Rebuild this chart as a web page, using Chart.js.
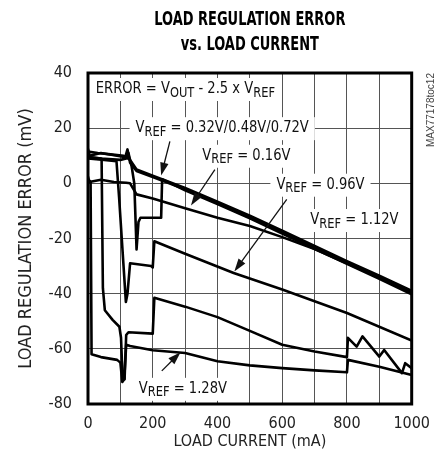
<!DOCTYPE html>
<html>
<head>
<meta charset="utf-8">
<script src="https://cdn.jsdelivr.net/npm/chart.js@4.4.0/dist/chart.umd.min.js"></script>
<style>
  html, body { margin: 0; padding: 0; background: #fff; }
</style>
</head>
<body>
<canvas id="chart-loadreg" width="440" height="463"></canvas>
<script>
// load current (mA) and error (mV)
const cur016 = [0, 4, 40, 80, 118, 130, 140, 150, 200, 300, 400, 500, 600, 700, 800, 900, 1000];
const err016 = [2.5, 0.5, 1.3, 0.5, 0.2, 0, -2, -4, -5.5, -9, -12.5, -15.5, -19.5, -23.8, -29, -34.2, -39.6];

const cur032 = [0, 30, 70, 110, 130, 150, 200, 300, 400, 500, 600, 700, 800, 900, 1000];
const err032 = [11.5, 11, 10.5, 10, 8.5, 5, 2.8, -1.7, -6.7, -11.7, -17.2, -22.7, -28.2, -33.5, -39];

const cur048 = [0, 5, 40, 90, 115, 122, 130, 150, 200, 300, 400, 500, 600, 700, 800, 900, 1000];
const err048 = [12.5, 10, 11, 10, 9.5, 12.3, 7.5, 4.5, 2.3, -2.2, -7.2, -12.4, -17.8, -23.3, -28.8, -34.2, -39.7];

const cur072 = [0, 40, 100, 118, 125, 135, 143, 150, 156, 162, 226, 229, 300, 400, 500, 600, 700, 800, 900, 1000];
const err072 = [9.5, 9, 8.5, 9, 11, 6, 0, -24, -14, -12.5, -12.5, 1.5, -2.5, -7.5, -12.7, -18.2, -23.7, -29.2, -34.6, -40.2];

const cur096 = [0, 50, 88, 96, 117, 122, 130, 195, 200, 205, 300, 450, 600, 800, 1000];
const err096 = [9, 8.5, 8, -5, -43, -40, -29, -30, -30.5, -21, -25.5, -32.5, -38.5, -47, -57];

const cur112 = [0, 42, 46, 52, 76, 97, 102, 107, 113, 118, 125, 200, 205, 300, 400, 500, 600, 700, 800, 803, 830, 848, 900, 915, 970, 980, 1000];
const err112 = [9.5, 9, -38, -46, -49.5, -52, -56, -71, -71, -55, -54, -54.5, -41.5, -44.7, -48.5, -53.5, -58.5, -61, -63, -56, -59.2, -55.5, -62.8, -60.4, -68.8, -65.2, -67];

const cur128 = [0, 8, 11, 40, 90, 100, 106, 112, 118, 130, 200, 300, 400, 500, 600, 700, 800, 803, 900, 1000];
const err128 = [1.5, 0.5, -62, -63, -64, -65, -72, -71, -58.5, -59, -60.5, -61.5, -64.5, -66, -67, -67.8, -68.5, -64, -66.5, -69.5];

const xTicks = [0, 200, 400, 600, 800, 1000];
const yTicks = [-80, -60, -40, -20, 0, 20, 40];

const FONT = '"Liberation Sans Narrow", "DejaVu Sans Condensed", "Arial Narrow", sans-serif';
const SQUEEZE = 0.91;   // callout text is narrower than the fallback font

const curves = [
    ['0.16V', cur016, err016],
    ['0.32V', cur032, err032],
    ['0.48V', cur048, err048],
    ['0.72V', cur072, err072],
    ['0.96V', cur096, err096],
    ['1.12V', cur112, err112],
    ['1.28V', cur128, err128]
];

// callouts: text parts ([text, isSubscript]), left edge / middle in data units, optional arrow tail->tip
const notes = [
    { parts: [['ERROR = V'], ['OUT', 1], [' - 2.5 x V'], ['REF', 1]], at: [24, 34.2] },
    { parts: [['V'], ['REF', 1], [' = 0.32V/0.48V/0.72V']], at: [147, 20], arrow: [[253, 15.2], [226, 2.8]] },
    { parts: [['V'], ['REF', 1], [' = 0.16V']], at: [353, 10], arrow: [[392, 5], [318, -8]] },
    { parts: [['V'], ['REF', 1], [' = 0.96V']], at: [582, -0.5], arrow: [[614, -5.8], [452, -32]] },
    { parts: [['V'], ['REF', 1], [' = 1.12V']], at: [687, -13.3] },
    { parts: [['V'], ['REF', 1], [' = 1.28V']], at: [157, -74.5], arrow: [[228, -68], [286, -61.2]] }
];

function setFont(ctx, sub) {
    ctx.font = (sub ? '14px ' : '16px ') + FONT;
}

function richWidth(ctx, parts) {
    let w = 0;
    parts.forEach(([t, sub]) => { setFont(ctx, sub); w += ctx.measureText(t).width; });
    return w * SQUEEZE;
}

function drawRich(ctx, parts, x, y) {
    ctx.save();
    ctx.translate(x, y);
    ctx.scale(SQUEEZE, 1);
    let px = 0;
    parts.forEach(([t, sub]) => {
        setFont(ctx, sub);
        ctx.fillText(t, px, sub ? 4 : 0);
        px += ctx.measureText(t).width;
    });
    ctx.restore();
}

function drawArrow(ctx, x0, y0, x1, y1) {
    const a = Math.atan2(y1 - y0, x1 - x0);
    const len = 13, half = 4.2;
    ctx.beginPath();
    ctx.moveTo(x0, y0);
    ctx.lineTo(x1 - Math.cos(a) * len * 0.8, y1 - Math.sin(a) * len * 0.8);
    ctx.lineWidth = 1.3;
    ctx.stroke();
    ctx.beginPath();
    ctx.moveTo(x1, y1);
    ctx.lineTo(x1 - Math.cos(a) * len - Math.sin(a) * half, y1 - Math.sin(a) * len + Math.cos(a) * half);
    ctx.lineTo(x1 - Math.cos(a) * len + Math.sin(a) * half, y1 - Math.sin(a) * len - Math.cos(a) * half);
    ctx.closePath();
    ctx.fill();
}

const decor = {
    id: 'decor',
    beforeDatasetsDraw(chart) {
        // white boxes under the callouts hide the grid, like the original
        const {ctx, scales: {x, y}} = chart;
        ctx.save();
        ctx.fillStyle = '#fff';
        notes.forEach(n => {
            const px = x.getPixelForValue(n.at[0]), py = y.getPixelForValue(n.at[1]);
            const w = richWidth(ctx, n.parts);
            ctx.fillRect(px - 6, py - 11, w + 12, 23);
        });
        ctx.restore();
    },
    afterDatasetsDraw(chart) {
        const {ctx, chartArea: a, scales: {x, y}} = chart;
        ctx.save();
        ctx.fillStyle = '#111';
        ctx.strokeStyle = '#111';
        ctx.textBaseline = 'middle';
        ctx.textAlign = 'left';
        notes.forEach(n => {
            drawRich(ctx, n.parts, x.getPixelForValue(n.at[0]), y.getPixelForValue(n.at[1]));
            if (n.arrow) {
                const [t, h] = n.arrow;
                drawArrow(ctx, x.getPixelForValue(t[0]), y.getPixelForValue(t[1]),
                    x.getPixelForValue(h[0]), y.getPixelForValue(h[1]));
            }
        });

        // plot frame
        ctx.lineWidth = 3;
        ctx.strokeStyle = '#000';
        ctx.strokeRect(a.left, a.top, a.right - a.left, a.bottom - a.top);

        // title, squeezed to the condensed look of the original
        const cx = (a.left + a.right) / 2;
        ctx.save();
        ctx.translate(cx, 0);
        ctx.scale(0.76, 1);
        ctx.textAlign = 'center';
        ctx.fillStyle = '#000';
        ctx.font = 'bold 19px ' + FONT;
        ctx.fillText('LOAD REGULATION ERROR', 0, 20);
        ctx.fillText('vs. LOAD CURRENT', 0, 45);
        ctx.restore();

        // figure id on the right edge
        ctx.translate(431, 147);
        ctx.rotate(-Math.PI / 2);
        ctx.textAlign = 'left';
        ctx.fillStyle = '#444';
        ctx.font = '10px "Liberation Sans", Arial, sans-serif';
        ctx.fillText('MAX77178toc12', 0, 0);
        ctx.restore();
    }
};

const tickFont = { family: FONT, size: 16 };

new Chart(document.getElementById('chart-loadreg'), {
    type: 'line',
    data: {
        datasets: curves.map(([name, xs, ys]) => ({
            label: 'VREF = ' + name,
            data: xs.map((v, i) => ({ x: v, y: ys[i] })),
            borderColor: '#000',
            borderWidth: 2.6,
            borderJoinStyle: 'round',
            pointRadius: 0,
            tension: 0,
            fill: false
        }))
    },
    options: {
        responsive: false,
        animation: false,
        layout: { padding: { top: 73, right: 20, left: 0, bottom: 0 } },
        plugins: {
            legend: { display: false },
            tooltip: { enabled: false },
            title: { display: false }
        },
        scales: {
            x: {
                type: 'linear',
                min: 0,
                max: 1000,
                afterFit(s) { s.height = 59; },
                ticks: {
                    stepSize: 100,
                    autoSkip: false,
                    maxRotation: 0,
                    padding: 10,
                    color: '#222',
                    font: tickFont,
                    callback: v => xTicks.includes(v) ? String(v) : ''
                },
                grid: { color: '#555', lineWidth: 1, drawTicks: false },
                border: { display: false },
                title: {
                    display: true,
                    text: 'LOAD CURRENT (mA)',
                    color: '#222',
                    font: tickFont,
                    padding: { top: 0, bottom: 12 }
                }
            },
            y: {
                min: -80,
                max: 40,
                afterFit(s) { s.width = 88; },
                ticks: {
                    stepSize: 20,
                    padding: 16,
                    color: '#222',
                    font: tickFont,
                    callback: v => yTicks.includes(v) ? String(v) : ''
                },
                grid: { color: '#555', lineWidth: 1, drawTicks: false },
                border: { display: false },
                title: {
                    display: true,
                    text: 'LOAD REGULATION ERROR (mV)',
                    color: '#222',
                    font: { family: FONT, size: 18 },
                    padding: { top: 16, bottom: 0 }
                }
            }
        }
    },
    plugins: [decor]
});
</script>
</body>
</html>
